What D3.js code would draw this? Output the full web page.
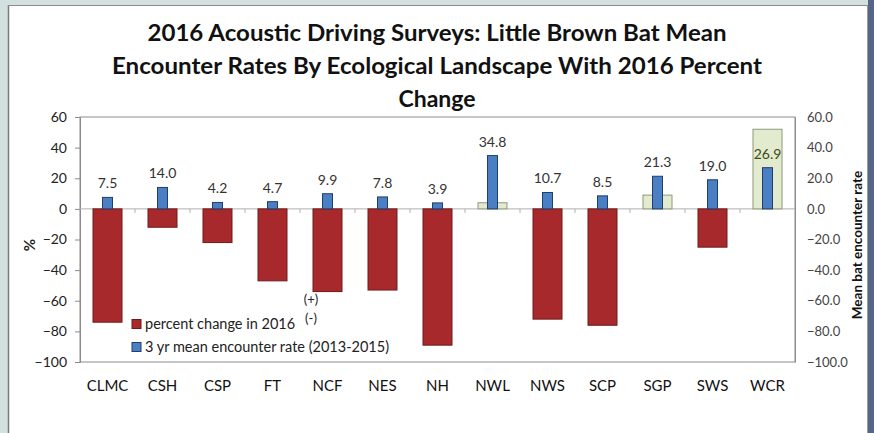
<!DOCTYPE html>
<html>
<head>
<meta charset="utf-8">
<script src="https://cdn.jsdelivr.net/npm/d3@7"></script>
<style>
html,body{margin:0;padding:0;background:#d3e0e0;}
svg{display:block;}
</style>
</head>
<body>
<svg id="chart" width="874" height="433"></svg>
<script>
const categories = ["CLMC","CSH","CSP","FT","NCF","NES","NH","NWL","NWS","SCP","SGP","SWS","WCR"];
const pctChange = [-74,-12,-22,-47,-54,-53,-89,4,-72,-76,9,-25,52];
const meanRate = [7.5,14.0,4.2,4.7,9.9,7.8,3.9,34.8,10.7,8.5,21.3,19.0,26.9];
const leftTicks = [60,40,20,0,-20,-40,-60,-80,-100];
const rightTicks = [60,40,20,0,-20,-40,-60,-80,-100];
const titleLines = ["2016 Acoustic Driving Surveys: Little Brown Bat Mean","Encounter Rates By Ecological Landscape With 2016 Percent","Change"];
const legendItems = ["percent change in 2016","3 yr mean encounter rate (2013-2015)"];

const svg = d3.select("#chart");
const font = "Lato, 'Open Sans', sans-serif";

// outer frame
svg.append("rect").attr("x",0).attr("y",0).attr("width",874).attr("height",433).attr("fill","#d3e0e0");
svg.append("rect").attr("x",868).attr("y",0).attr("width",6).attr("height",433).attr("fill","#56668a");
svg.append("rect").attr("x",8).attr("y",5).attr("width",860).attr("height",428).attr("fill","#ffffff");
svg.append("line").attr("x1",8.5).attr("x2",8.5).attr("y1",5).attr("y2",433).attr("stroke","#7a7a7a").attr("stroke-width",1.5);
svg.append("line").attr("x1",8).attr("x2",868).attr("y1",5.5).attr("y2",5.5).attr("stroke","#8a8a8a").attr("stroke-width",1);
svg.append("line").attr("x1",867.5).attr("x2",867.5).attr("y1",5).attr("y2",433).attr("stroke","#9a9a9a").attr("stroke-width",1);

const L = 80, R = 795, T = 117, B = 362;
const x = d3.scaleBand().domain(categories).range([L,R]).padding(0);
const y = d3.scaleLinear().domain([-100,60]).range([B,T]);
const y2 = d3.scaleLinear().domain([-100,60]).range([B,T]);

// title
const titleY = [41,74,107];
const titleLen = [579,650,null];
titleLines.forEach((t,i)=>{
  const tx = svg.append("text").attr("x",437).attr("y",titleY[i]).attr("text-anchor","middle")
    .attr("font-family",font).attr("font-weight","bold").attr("font-size",23).attr("fill","#111")
    .text(t);
  if(titleLen[i]) tx.attr("textLength",titleLen[i]).attr("lengthAdjust","spacingAndGlyphs");
});

// plot border
svg.append("rect").attr("x",L).attr("y",T).attr("width",R-L).attr("height",B-T)
  .attr("fill","none").attr("stroke","#8c8c8c").attr("stroke-width",1);

// left axis
const gl = svg.append("g").attr("transform",`translate(${L},0)`)
  .call(d3.axisLeft(y).tickValues(leftTicks).tickSize(5).tickPadding(8).tickFormat(d3.format("d")));
gl.select(".domain").attr("stroke","#8c8c8c");
gl.selectAll(".tick line").attr("stroke","#8c8c8c");
gl.selectAll("text").attr("font-family",font).attr("font-size",14).attr("fill","#222");

// right axis
const gr = svg.append("g").attr("transform",`translate(${R},0)`)
  .call(d3.axisRight(y2).tickValues(rightTicks).tickSize(0).tickPadding(12).tickFormat(d3.format(".1f")));
gr.select(".domain").attr("stroke","#8c8c8c");
gr.selectAll("text").attr("font-family",font).attr("font-size",13).attr("fill","#444");

// axis titles
svg.append("text").attr("transform","translate(35,245) rotate(-90)").attr("text-anchor","middle")
  .attr("font-family",font).attr("font-weight","bold").attr("font-size",15).attr("fill","#222").text("%");
svg.append("text").attr("transform","translate(862,245) rotate(-90)").attr("text-anchor","middle")
  .attr("font-family",font).attr("font-weight","bold").attr("font-size",13.5).attr("fill","#111").text("Mean bat encounter rate");

// zero axis with category ticks
const y0 = y(0);
svg.append("line").attr("x1",L).attr("x2",R).attr("y1",y0).attr("y2",y0).attr("stroke","#b0b0b0").attr("stroke-width",1);
svg.selectAll(".ctick").data(categories.slice(1)).enter().append("line")
  .attr("x1",d=>x(d)).attr("x2",d=>x(d)).attr("y1",y0).attr("y2",y0+4).attr("stroke","#b0b0b0");

// x labels
svg.selectAll(".xlab").data(categories).enter().append("text")
  .attr("x",d=>x(d)+x.bandwidth()/2).attr("y",391).attr("text-anchor","middle")
  .attr("font-family",font).attr("font-size",15).attr("fill","#111").text(d=>d);

// percent change bars
const bw = 29;
svg.selectAll(".pbar").data(categories).enter().append("rect")
  .attr("x",d=>x(d)+x.bandwidth()/2-bw/2)
  .attr("y",(d,i)=>Math.min(y(pctChange[i]),y0))
  .attr("width",bw)
  .attr("height",(d,i)=>Math.abs(y(pctChange[i])-y0))
  .attr("fill",(d,i)=>pctChange[i]<0?"#a8292b":"#e2ebcd")
  .attr("stroke",(d,i)=>pctChange[i]<0?"#6e1a1b":"#8e9a78")
  .attr("stroke-width",1);

// mean rate bars
const mw = 10;
svg.selectAll(".mbar").data(categories).enter().append("rect")
  .attr("x",d=>x(d)+x.bandwidth()/2-mw/2)
  .attr("y",(d,i)=>y2(meanRate[i]))
  .attr("width",mw)
  .attr("height",(d,i)=>y0-y2(meanRate[i]))
  .attr("fill","#4a7fc4").attr("stroke","#1f3e6e").attr("stroke-width",1);

// labels
svg.selectAll(".mlab").data(categories).enter().append("text")
  .attr("x",d=>x(d)+x.bandwidth()/2).attr("y",(d,i)=>y2(meanRate[i])-9)
  .attr("text-anchor","middle").attr("font-family",font).attr("font-size",14)
  .attr("fill",(d,i)=>pctChange[i]>meanRate[i]?"#3d4a1a":"#333")
  .text((d,i)=>d3.format(".1f")(meanRate[i]));

// legend
const legColors = ["#a8292b","#4a7fc4"];
const legStroke = ["#6e1a1b","#1f3e6e"];
legendItems.forEach((t,i)=>{
  const ly = 324 + i*23;
  svg.append("rect").attr("x",132).attr("y",ly-4.5).attr("width",9).attr("height",9)
    .attr("fill",legColors[i]).attr("stroke",legStroke[i]);
  svg.append("text").attr("x",145).attr("y",ly+5).attr("font-family",font).attr("font-size",14.5)
    .attr("fill","#222").text(t);
});

// (+)/(-) annotations
svg.append("text").attr("x",311).attr("y",304).attr("text-anchor","middle").attr("font-family",font).attr("font-size",13).attr("fill","#222").text("(+)");
svg.append("text").attr("x",311).attr("y",323).attr("text-anchor","middle").attr("font-family",font).attr("font-size",13).attr("fill","#222").text("(-)");
</script>
</body>
</html>
